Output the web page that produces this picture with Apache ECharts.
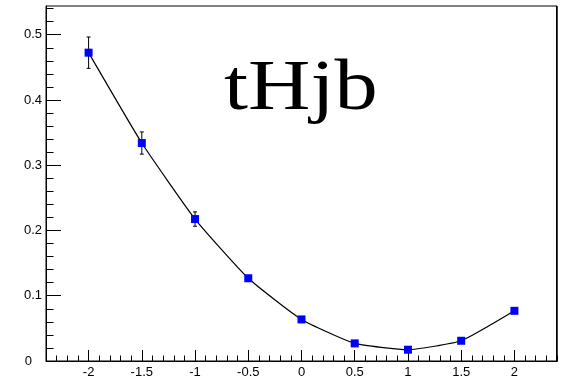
<!DOCTYPE html>
<html>
<head>
<meta charset="utf-8">
<script src="https://cdn.jsdelivr.net/npm/echarts@6/dist/echarts.min.js"></script>
<style>
html, body { margin: 0; padding: 0; background: #fff; }
#main { width: 563px; height: 379px; }
</style>
</head>
<body>
<div id="main"></div>
<script>
// data
var xValues = [-2, -1.5, -1, -0.5, 0, 0.5, 1, 1.5, 2];
var yValues = [0.4725, 0.334, 0.2175, 0.1268, 0.0637, 0.027, 0.0173, 0.031, 0.0769];
var yErrors = [0.024, 0.017, 0.011, 0.004, 0.002, 0.002, 0.001, 0.002, 0.002];
var xTicks = [-2, -1.5, -1, -0.5, 0, 0.5, 1, 1.5, 2];
var yTicks = [0, 0.1, 0.2, 0.3, 0.4, 0.5];
var titleText = 'tHjb';

var xMin = -2.4, xMax = 2.4, yMin = 0, yMax = 0.544;

// minor ticks (ROOT style, 5 divisions)
var xMinor = [];
for (var i = -24; i <= 24; i++) xMinor.push(i / 10);
var yMinor = [];
for (var j = 0; j <= 27; j++) yMinor.push(j / 50);

var points = [];
for (var k = 0; k < xValues.length; k++) points.push([xValues[k], yValues[k], yErrors[k]]);

var labelFont = '"Liberation Sans", Arial, sans-serif';

var chart = echarts.init(document.getElementById('main'));
chart.setOption({
    animation: false,
    grid: {
        left: 46, right: 6, top: 6, bottom: 17,
        show: true,
        borderColor: '#000',
        borderWidth: 1
    },
    xAxis: [{
        type: 'value', min: xMin, max: xMax, position: 'bottom',
        axisLine: { onZero: false, lineStyle: { color: '#000', width: 1 } },
        axisTick: { inside: true, length: 11, customValues: xTicks, lineStyle: { color: '#000' } },
        axisLabel: { customValues: xTicks, color: '#000', fontSize: 13, margin: 5, fontFamily: labelFont },
        splitLine: { show: false }
    }, {
        type: 'value', min: xMin, max: xMax, position: 'bottom',
        axisLine: { show: false, onZero: false },
        axisTick: { inside: true, length: 5.5, customValues: xMinor, lineStyle: { color: '#000' } },
        axisLabel: { show: false },
        splitLine: { show: false }
    }],
    yAxis: [{
        type: 'value', min: yMin, max: yMax, position: 'left',
        axisLine: { show: true, onZero: false, lineStyle: { color: '#000', width: 1 } },
        axisTick: { show: true, inside: true, length: 15, customValues: yTicks, lineStyle: { color: '#000' } },
        axisLabel: {
            customValues: yTicks, color: '#000', fontSize: 13, margin: 4, fontFamily: labelFont,
            formatter: function (v) { return v === 0 ? '{z|0}' : String(v); },
            rich: { z: { fontSize: 13, color: '#000', padding: [0, 10, 0, 0], fontFamily: labelFont } }
        },
        splitLine: { show: false }
    }, {
        type: 'value', min: yMin, max: yMax, position: 'left',
        axisLine: { show: false, onZero: false },
        axisTick: { show: true, inside: true, length: 7.5, customValues: yMinor, lineStyle: { color: '#000' } },
        axisLabel: { show: false },
        splitLine: { show: false }
    }],
    graphic: [{
        type: 'text',
        x: 224, y: 54,
        scaleX: 1.2,
        style: {
            text: titleText,
            fill: '#000',
            font: '72px "Liberation Serif", "DejaVu Serif", serif'
        }
    }, {
        // heavier right frame edge, as in the reference
        type: 'rect',
        shape: { x: 556, y: 6, width: 1.5, height: 356 },
        style: { fill: '#000' }
    }],
    series: [{
        // error bars
        type: 'custom',
        xAxisIndex: 0, yAxisIndex: 0,
        z: 1,
        data: points,
        renderItem: function (params, api) {
            var x = api.value(0), y = api.value(1), e = api.value(2);
            var top = api.coord([x, y + e]);
            var bot = api.coord([x, y - e]);
            var st = { stroke: '#000', lineWidth: 1 };
            return {
                type: 'group',
                children: [
                    { type: 'line', shape: { x1: top[0], y1: top[1], x2: bot[0], y2: bot[1] }, style: st },
                    { type: 'line', shape: { x1: top[0] - 2, y1: top[1], x2: top[0] + 2, y2: top[1] }, style: st },
                    { type: 'line', shape: { x1: bot[0] - 2, y1: bot[1], x2: bot[0] + 2, y2: bot[1] }, style: st }
                ]
            };
        }
    }, {
        type: 'line',
        xAxisIndex: 0, yAxisIndex: 0,
        z: 2,
        data: points,
        smooth: 0.15,
        symbol: 'rect',
        symbolSize: 8,
        itemStyle: { color: '#0000ff' },
        lineStyle: { color: '#000', width: 1.2 }
    }]
});
</script>
</body>
</html>
